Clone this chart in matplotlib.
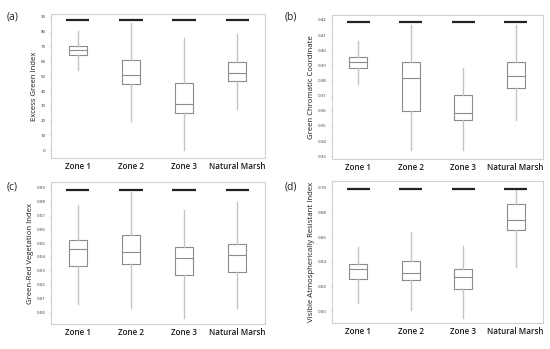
import matplotlib
matplotlib.use("Agg")
import matplotlib.pyplot as plt

plt.rcParams['font.family'] = ['Open Sans', 'DejaVu Sans']

categories = ["Zone 1", "Zone 2", "Zone 3", "Natural Marsh"]

# (a) Excess Green Index
exg_low = [54, 20, 0, 28]
exg_q1 = [64, 44.5, 25, 47]
exg_med = [67.5, 50.5, 31.5, 52]
exg_q3 = [70.5, 61, 45.5, 59.5]
exg_high = [80.5, 86, 76, 78.5]
exg_bar = 88

# (b) Green Chromatic Coordinate
gcc_low = [0.378, 0.334, 0.334, 0.354]
gcc_q1 = [0.3885, 0.360, 0.354, 0.375]
gcc_med = [0.3925, 0.3815, 0.3585, 0.383]
gcc_q3 = [0.3955, 0.392, 0.3705, 0.392]
gcc_high = [0.406, 0.4165, 0.3885, 0.4165]
gcc_bar = 0.419

# (c) Green-Red Vegetation Index
grvi_low = [0.0055, 0.003, -0.0045, 0.003]
grvi_q1 = [0.0335, 0.035, 0.0265, 0.029]
grvi_med = [0.0455, 0.0435, 0.039, 0.041]
grvi_q3 = [0.052, 0.0555, 0.0475, 0.0495]
grvi_high = [0.0775, 0.087, 0.074, 0.080]
grvi_bar = 0.0885

# (d) Visible Atmospherically Resistant Index
vari_low = [0.0065, 0.001, -0.005, 0.036]
vari_q1 = [0.026, 0.025, 0.018, 0.066]
vari_med = [0.034, 0.031, 0.028, 0.074]
vari_q3 = [0.0385, 0.041, 0.034, 0.087]
vari_high = [0.052, 0.064, 0.053, 0.099]
vari_bar = 0.099

panels = [
    ("(a)", "Excess Green Index", exg_low, exg_q1, exg_med, exg_q3, exg_high, exg_bar,
     [0, 10, 20, 30, 40, 50, 60, 70, 80, 90], "{:.0f}", (-5.2, 92),
     [51/550, 1 - 158/349, (265-51)/550, (158-14)/349]),
    ("(b)", "Green Chromatic Coordinate", gcc_low, gcc_q1, gcc_med, gcc_q3, gcc_high, gcc_bar,
     [0.33 + 0.01*i for i in range(10)], "{:.2f}", (0.3282, 0.4233),
     [332/550, 1 - 159/349, (543-332)/550, (159-15)/349]),
    ("(c)", "Green-Red Vegetation Index", grvi_low, grvi_q1, grvi_med, grvi_q3, grvi_high, grvi_bar,
     [0.01*i for i in range(10)], "{:.2f}", (-0.0087, 0.0943),
     [51/550, 1 - 324/349, (265-51)/550, (324-182)/349]),
    ("(d)", "Visible Atmospherically Resistant Index", vari_low, vari_q1, vari_med, vari_q3, vari_high, vari_bar,
     [0.02*i for i in range(6)], "{:.2f}", (-0.0094, 0.1054),
     [332/550, 1 - 323/349, (543-332)/550, (323-181)/349]),
]

fig = plt.figure(figsize=(5.5, 3.49), dpi=100)
label_pos = [(7/550, 1 - 17/349), (285/550, 1 - 17/349), (7/550, 1 - 187/349), (285/550, 1 - 187/349)]

for idx, (lab, ylabel, lo, q1, med, q3, hi, bar, ticks, fmt, ylim, rect) in enumerate(panels):
    ax = fig.add_axes(rect)
    stats = []
    for i in range(4):
        stats.append(dict(med=med[i], q1=q1[i], q3=q3[i], whislo=lo[i], whishi=hi[i], fliers=[], label=categories[i]))
    positions = [1, 2, 3, 4]
    ax.bxp(stats, positions=positions, widths=0.34, showfliers=False, showcaps=False,
           boxprops=dict(color="#8c8c8c", linewidth=0.8),
           medianprops=dict(color="#8c8c8c", linewidth=0.8),
           whiskerprops=dict(color="#c4c4c4", linewidth=1.0))
    ax.hlines([bar]*4, [p - 0.22 for p in positions], [p + 0.22 for p in positions],
              color="#222222", linewidth=1.6)
    ax.set_xlim(0.5, 4.52)
    ax.set_ylim(*ylim)
    ax.set_yticks(ticks)
    ax.set_yticklabels([fmt.format(t) for t in ticks], fontsize=3.2, color="#333333")
    ax.set_xticks(positions)
    ax.set_xticklabels(categories, fontsize=5.8, color="#1a1a1a", fontweight="semibold")
    ax.tick_params(axis='x', length=0, pad=3)
    ax.tick_params(axis='y', length=1.2, width=0.4, color="#cccccc", pad=2.5)
    for s in ax.spines.values():
        s.set_color("#d0d0d0")
        s.set_linewidth(0.8)
    ax.set_ylabel(ylabel, fontsize=5.6, color="#1a1a1a", labelpad=2)
    fig.text(label_pos[idx][0], label_pos[idx][1], lab, fontsize=7.5, color="#222222", va="center")

fig.savefig("out.png", dpi=100)
